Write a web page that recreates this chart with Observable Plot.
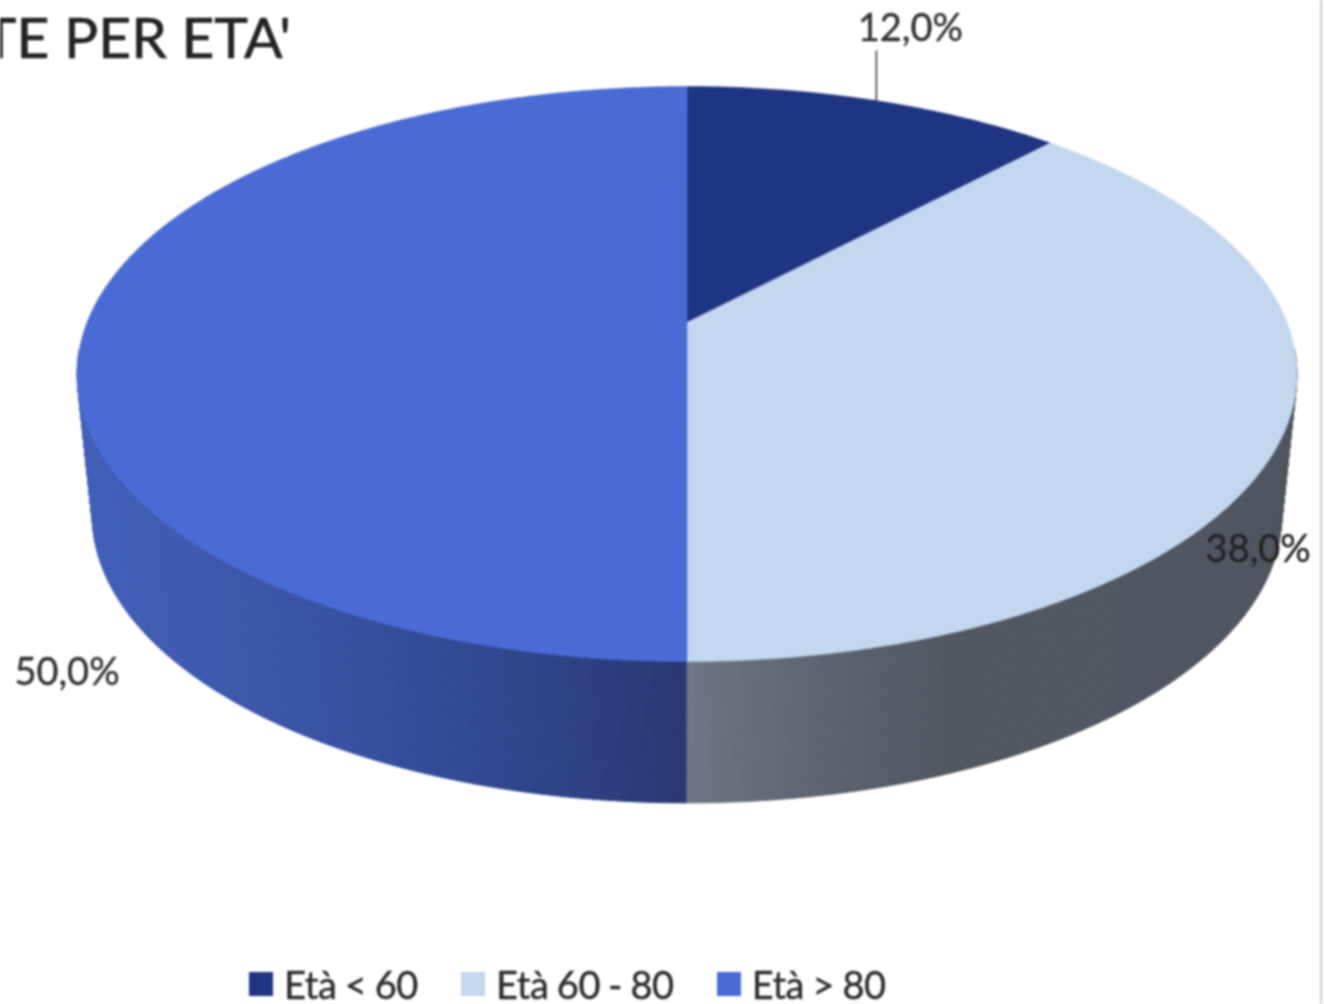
<!DOCTYPE html>
<html lang="it">
<head>
<meta charset="utf-8">
<script src="https://cdn.jsdelivr.net/npm/d3@7"></script>
<script src="https://cdn.jsdelivr.net/npm/@observablehq/plot@0.6"></script>
<style>
  html, body { margin: 0; padding: 0; background: #fff; overflow: hidden; }
  #page { position: relative; width: 1324px; height: 1004px; overflow: hidden; filter: blur(1px); font-family: Lato, sans-serif; color: #2b2b2b; }
  #chart svg { display: block; }
  #chart text { stroke: currentColor; stroke-width: 0.4px; }
  #border { position: absolute; left: 1320px; top: 0; width: 2px; height: 1004px; background: #c9c9c9; }
  #title { position: absolute; right: 1033px; top: 2px; font-size: 57px; line-height: 68px; white-space: nowrap; color: #222; -webkit-text-stroke: 0.6px #222; }
  #legend { position: absolute; left: 249px; top: 966px; display: flex; gap: 43px; font-size: 38px; line-height: 36px; letter-spacing: -0.4px; word-spacing: -1px; -webkit-text-stroke: 0.4px #2b2b2b; }
  #legend .item { display: flex; align-items: center; gap: 11px; white-space: nowrap; }
  #legend .swatch { width: 24px; height: 24px; display: block; }
</style>
</head>
<body>
<div id="page">
  <div id="chart"></div>
  <div id="border"></div>
  <div id="title"></div>
  <div id="legend"></div>
</div>
<script>
const titleText = "TE PER ETA'";
const categories = ["Età < 60", "Età 60 - 80", "Età > 80"];
const shares = [12.0, 38.0, 50.0];
const labels = ["12,0%", "38,0%", "50,0%"];
const topColors = ["#1f3583", "#c3d7ee", "#4a6bd6"];
// Side shading of each slice, left to right across the pie
const sideStops = [
  [[-1, "#1a2c6e"], [1, "#1a2c6e"]],
  [[0, "#6d7682"], [0.19, "#5e6772"], [0.44, "#51575f"], [1, "#4f5660"]],
  [[-1, "#425fb8"], [-0.73, "#3c56a8"], [-0.48, "#354d9a"], [-0.145, "#2d3f81"], [0, "#29386f"]]
];

// Pie projection: a tilted disc seen in perspective
const tilt = 0.179;
const depth = 0.508;
const baseScale = 0.975;
const rad = (d) => (d * Math.PI) / 180;
const onRim = (deg, lower = false) => {
  const s = Math.sin(rad(deg)), c = Math.cos(rad(deg)), w = 1 + tilt * c;
  return lower
    ? { x: (baseScale * s) / w, y: c / w - depth }
    : { x: s / w, y: c / w };
};

// Slice angle ranges follow from the shares
let acc = 0;
const slices = categories.map((category, i) => {
  const start = (acc / 100) * 360;
  acc += shares[i];
  const end = (acc / 100) * 360;
  return { category, i, start, end, mid: (start + end) / 2 };
});

const topPoints = slices.flatMap((sl) => {
  const n = Math.ceil((sl.end - sl.start) / 0.5);
  const rim = d3.range(n + 1).map((k) => onRim(sl.start + ((sl.end - sl.start) * k) / n));
  return [{ x: 0, y: 0 }, ...rim].map((p) => ({ ...p, id: sl.category, color: topColors[sl.i] }));
});

const sidePoints = [];
slices.forEach((sl) => {
  const stops = sideStops[sl.i];
  const color = d3.scaleLinear().domain(stops.map((d) => d[0])).range(stops.map((d) => d[1])).interpolate(d3.interpolateRgb).clamp(true);
  const n = Math.ceil((sl.end - sl.start) / 0.5);
  d3.range(n).forEach((k) => {
    const a = sl.start + ((sl.end - sl.start) * k) / n;
    const b = sl.start + ((sl.end - sl.start) * (k + 1)) / n;
    const order = -Math.cos(rad((a + b) / 2));
    if (order < 0.1) return; // the back of the disc is hidden
    const quad = [onRim(a), onRim(b), onRim(b, true), onRim(a, true)];
    const col = color((quad[0].x + quad[1].x) / 2);
    quad.forEach((p) => sidePoints.push({ ...p, id: `${sl.i}-${k}`, color: col, order }));
  });
});
sidePoints.sort((p, q) => p.order - q.order);

const anchors = slices.map((sl) => ({ ...onRim(sl.mid), label: labels[sl.i] }));
const leaderEndY = onRim(0).y + 0.129;

const chart = Plot.plot({
  width: 1324,
  height: 1004,
  margin: 0,
  style: { background: "transparent", overflow: "visible" },
  x: { axis: null, domain: [-686.5 / 600, 637.5 / 600], range: [0, 1324] },
  y: { axis: null, domain: [322 / 278.3, -682 / 278.3], range: [0, 1004] },
  marks: [
    Plot.line(sidePoints, { x: "x", y: "y", z: "id", fill: "color", stroke: "color", strokeWidth: 1, curve: "linear-closed" }),
    Plot.line(topPoints, { x: "x", y: "y", z: "id", fill: "color", stroke: "color", strokeWidth: 0.5, curve: "linear-closed" }),
    Plot.link([anchors[0]], { x1: "x", x2: "x", y1: "y", y2: () => leaderEndY, stroke: "#333", strokeWidth: 1.5 }),
    Plot.text([anchors[0]], { x: "x", y: "y", text: "label", dx: 34, dy: -72, fontSize: 38, fontFamily: "Lato", fill: "#333" }),
    Plot.text([anchors[1]], { x: "x", y: "y", text: "label", dx: -26, dy: 118, fontSize: 38, fontFamily: "Lato", fill: "#222" }),
    Plot.text([anchors[2]], { x: "x", y: "y", text: "label", dx: -20, dy: 350, fontSize: 38, fontFamily: "Lato", fill: "#333" })
  ]
});
document.getElementById("chart").append(chart);
document.getElementById("title").textContent = titleText;
const legend = d3.select("#legend");
categories.forEach((c, i) => {
  const item = legend.append("div").attr("class", "item");
  item.append("span").attr("class", "swatch").style("background", topColors[i]);
  item.append("span").text(c);
});
</script>
</body>
</html>
